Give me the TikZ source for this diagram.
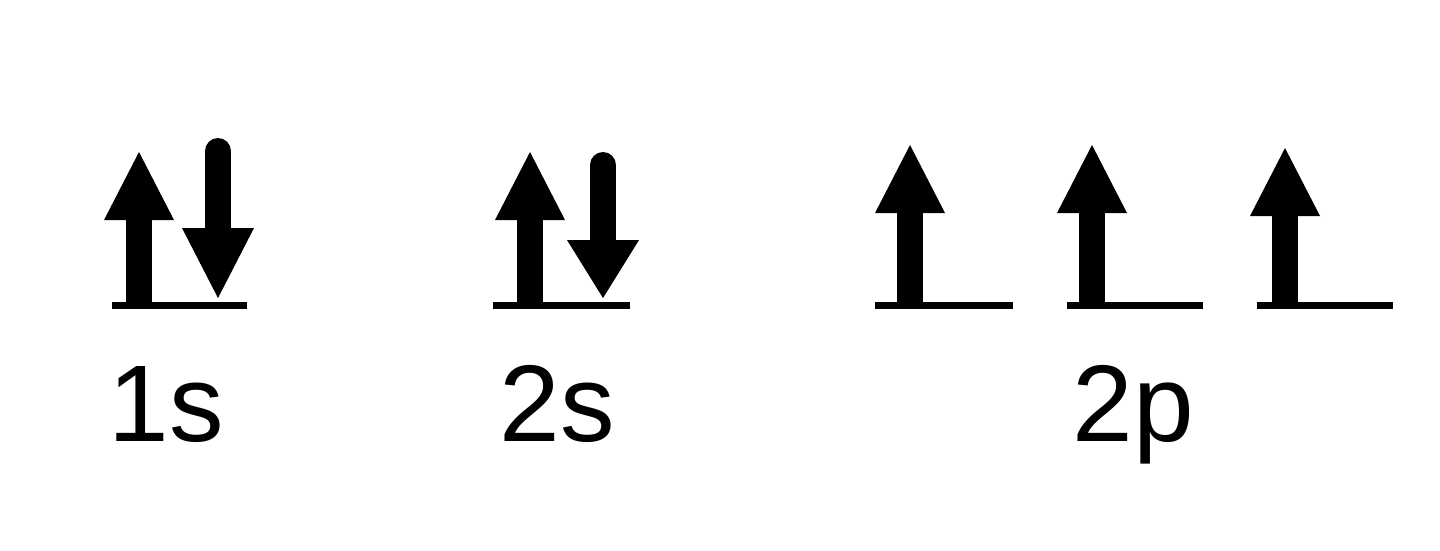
\documentclass[tikz,border=0pt]{standalone}
\usepackage{fontspec}
\setmainfont{Liberation Sans}
\usepackage{tikz}
\usetikzlibrary{calc}
\tikzset{
	level/.style={line width=0.07cm},
	shaft/.style={line width=0.26cm},
	lbl/.style={font=\fontsize{31}{37}\selectfont, inner sep=0pt, anchor=base}
}

\begin{document}
\begin{tikzpicture}[x=0.01cm,y=-0.01cm]
			\useasboundingbox (0,0) rectangle (1440,550);
			% energy levels
			\foreach \a/\b in {112/247,493/630,875/1013,1067/1203,1257/1393}
				\draw[level] (\a,305) -- (\b,305);
			% spin up
			\foreach \c/\t in {139/152,530/152,910/145,1092/145,1285/148}{
				\draw[shaft] (\c,305) -- (\c,\t+60);
				\fill (\c-35,\t+68) -- (\c,\t) -- (\c+35,\t+68) -- cycle;
			}
			% spin down
			\foreach \c/\t/\h in {218/138/228,603/152/240}{
				\draw[shaft,line cap=round] (\c,\t+13) -- (\c,\h+5);
				\fill (\c-36,\h) -- (\c,298) -- (\c+36,\h) -- cycle;
			}
			\node[lbl] (s1) at (166,441) {1s};
			\node[lbl] (s2) at (557,441) {2s};
			\node[lbl] (p2) at (1133,441) {2p};
\end{tikzpicture}
\end{document}
